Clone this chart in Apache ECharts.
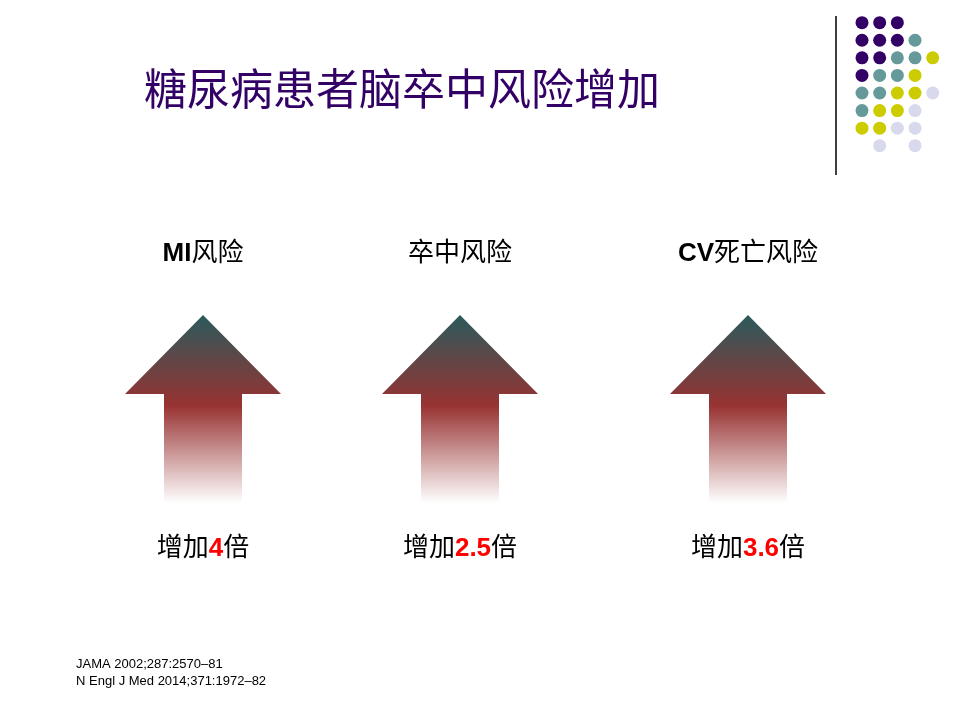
<!DOCTYPE html>
<html>
<head>
<meta charset="utf-8">
<script src="https://cdn.jsdelivr.net/npm/echarts@6/dist/echarts.min.js"></script>
<style>
  html, body { margin: 0; padding: 0; background: #fff; }
  #chart { width: 960px; height: 720px; }
</style>
</head>
<body>
<div id="chart"></div>
<script>
// Daten
const categories = ['MI风险', '卒中风险', 'CV死亡风险'];
const increases = [4, 2.5, 3.6];
const references = ['JAMA 2002;287:2570\u201381', 'N Engl J Med 2014;371:1972\u201382'];

// Punktmuster oben rechts (P = lila, T = petrol, Y = gelb, L = lavendel)
const dotRows = [
  'PPP..',
  'PPPT.',
  'PPTTY',
  'PTTY.',
  'TTYYL',
  'TYYL.',
  'YYLL.',
  '.L.L.'
];
const dotColors = { P: '#330066', T: '#669999', Y: '#CCCC00', L: '#D9D9EE' };

const chart = echarts.init(document.getElementById('chart'));
const font = '"Liberation Sans", Arial, "Noto Sans CJK SC", sans-serif';

// Pfeil-Layout (Mittelpunkte der Pfeile)
const arrowCenters = [203, 460, 748];
const arrowW = 156, arrowH = 188, arrowTop = 315;
const arrowPath = 'path://M78,0 L156,79 L117,79 L117,188 L39,188 L39,79 L0,79 Z';

const arrowGradient = new echarts.graphic.LinearGradient(0, 0, 0, 1, [
  { offset: 0, color: '#2B5A5C' },
  { offset: 0.48, color: '#973231' },
  { offset: 1, color: '#FFFFFF' }
]);

const grids = [], xAxes = [], yAxes = [], series = [];

categories.forEach((name, i) => {
  grids.push({ left: arrowCenters[i] - arrowW / 2, top: arrowTop, width: arrowW, height: arrowH });
  xAxes.push({
    gridIndex: i,
    type: 'category',
    position: 'top',
    data: [name],
    axisLine: { show: false },
    axisTick: { show: false },
    axisLabel: {
      margin: 61,
      verticalAlign: 'middle',
      formatter: v => {
        const m = v.match(/^([A-Za-z]+)(.*)$/);
        return m ? '{b|' + m[1] + '}{n|' + m[2] + '}' : '{n|' + v + '}';
      },
      rich: {
        b: { fontFamily: font, fontWeight: 'bold', fontSize: 26, color: '#000' },
        n: { fontFamily: font, fontSize: 26, color: '#000' }
      }
    }
  });
  yAxes.push({ gridIndex: i, type: 'value', min: 0, max: increases[i], show: false });
  series.push({
    type: 'pictorialBar',
    xAxisIndex: i,
    yAxisIndex: i,
    barWidth: arrowW,
    symbol: arrowPath,
    symbolSize: [arrowW, arrowH],
    symbolPosition: 'start',
    itemStyle: { color: arrowGradient },
    label: {
      show: true,
      position: 'bottom',
      distance: 33,
      formatter: p => '{n|增加}{r|' + p.value + '}{n|倍}',
      rich: {
        n: { fontFamily: font, fontSize: 26, color: '#000' },
        r: { fontFamily: font, fontSize: 26, fontWeight: 'bold', color: '#FF0000' }
      }
    },
    silent: true,
    data: [increases[i]]
  });
});

// Punktraster
const dotGrid = grids.length;
grids.push({ left: 862, top: 22.7, width: 70.7, height: 123 });
xAxes.push({ gridIndex: dotGrid, type: 'value', min: 0, max: 4, show: false });
yAxes.push({ gridIndex: dotGrid, type: 'value', min: 0, max: 7, inverse: true, show: false });
Object.keys(dotColors).forEach(key => {
  const pts = [];
  dotRows.forEach((row, r) => {
    row.split('').forEach((c, col) => { if (c === key) pts.push([col, r]); });
  });
  series.push({
    type: 'scatter',
    xAxisIndex: dotGrid,
    yAxisIndex: dotGrid,
    symbolSize: 13,
    itemStyle: { color: dotColors[key], opacity: 1 },
    silent: true,
    data: pts
  });
});

const option = {
  animation: false,
  backgroundColor: '#fff',
  title: {
    text: '糖尿病患者脑卒中风险增加',
    left: 139,
    top: 62,
    textStyle: { fontFamily: '"Noto Sans CJK SC", sans-serif', fontSize: 43, fontWeight: 'normal', color: '#330066' }
  },
  grid: grids,
  xAxis: xAxes,
  yAxis: yAxes,
  series: series,
  graphic: [
    { type: 'line', shape: { x1: 836, y1: 16, x2: 836, y2: 175 }, style: { stroke: '#000', lineWidth: 1.5 } },
    {
      type: 'text', left: 76, top: 656,
      style: { text: references.join('\n'), fontFamily: font, fontSize: 13, lineHeight: 17, fill: '#000' }
    }
  ]
};

chart.setOption(option);

window.addEventListener('resize', () => {
  chart.resize();
});
</script>
</body>
</html>
